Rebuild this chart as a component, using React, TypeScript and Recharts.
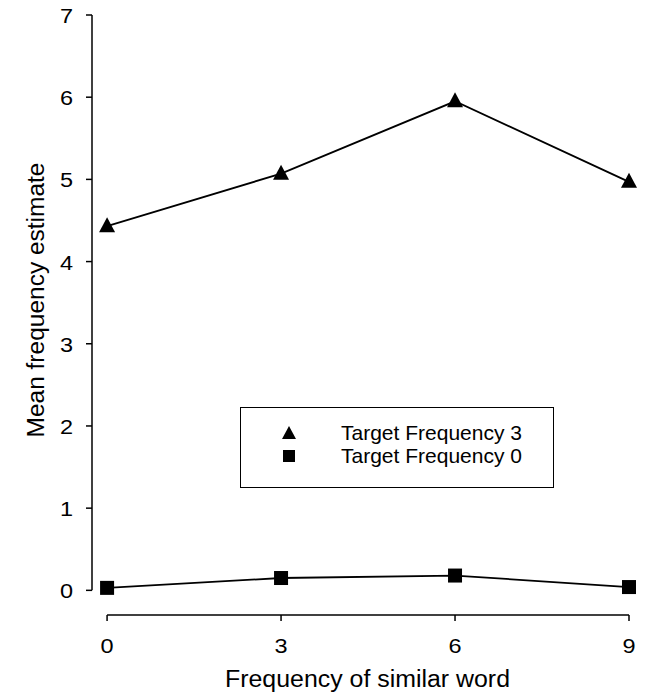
import { LineChart, Line, XAxis, YAxis, ReferenceLine, Legend } from "recharts";

const similarFreq = [0, 3, 6, 9];
const target3 = [4.43, 5.07, 5.95, 4.97];
const target0 = [0.03, 0.15, 0.18, 0.04];
const yTicks = [0, 1, 2, 3, 4, 5, 6, 7];
const xTicks = [0, 3, 6, 9];
const legendOrder = ["Target Frequency 3", "Target Frequency 0"];

const data = similarFreq.map((f, i) => ({ f, t3: target3[i], t0: target0[i] }));

const FONT = '"Liberation Sans", Arial, Helvetica, sans-serif';

const Triangle = ({ cx, cy }: any) => (
  <polygon points={`${cx},${cy - 9} ${cx - 8},${cy + 6} ${cx + 8},${cy + 6}`} fill="#000" />
);

const Square = ({ cx, cy }: any) => <rect x={cx - 7} y={cy - 7} width={14} height={14} fill="#000" />;

const YTick = ({ x, y, payload }: any) => (
  <text x={x} y={y + 1} textAnchor="end" dominantBaseline="central" fontSize={21} fontFamily={FONT} fill="#000"
    transform={`translate(${x} ${y}) scale(1.12 1) translate(${-x} ${-y})`}>
    {payload.value}
  </text>
);

const XTick = ({ x, y, payload }: any) => (
  <text x={x} y={y + 30} textAnchor="middle" fontSize={21} fontFamily={FONT} fill="#000"
    transform={`translate(${x} 0) scale(1.12 1) translate(${-x} 0)`}>
    {payload.value}
  </text>
);

const YTitle = ({ viewBox }: any) => {
  const cx = viewBox.x + 36;
  const cy = viewBox.y + viewBox.height / 2 - 15;
  return (
    <text
      x={cx}
      y={cy}
      transform={`rotate(-90 ${cx} ${cy})`}
      textAnchor="middle"
      dominantBaseline="central"
      fontSize={23}
      fontFamily={FONT}
      textLength={275}
      lengthAdjust="spacingAndGlyphs"
      fill="#000"
    >
      Mean frequency estimate
    </text>
  );
};

const XTitle = ({ viewBox }: any) => {
  const cx = viewBox.x + viewBox.width / 2 + 7;
  return (
    <text
      x={cx}
      y={687}
      textAnchor="middle"
      fontSize={23}
      fontFamily={FONT}
      textLength={285}
      lengthAdjust="spacingAndGlyphs"
      fill="#000"
    >
      Frequency of similar word
    </text>
  );
};

const LegendBox = ({ payload }: any) => {
  const items = [...(payload || [])].sort(
    (a: any, b: any) => legendOrder.indexOf(a.value) - legendOrder.indexOf(b.value)
  );
  return (
    <div
      style={{
        width: 314,
        height: 81,
        border: "1.5px solid #000",
        boxSizing: "border-box",
        position: "relative",
        fontFamily: FONT,
        fontSize: 21,
        color: "#000",
        background: "#fff",
      }}
    >
      {items.map((p: any, i: number) => (
        <div
          key={p.value}
          style={{ position: "absolute", left: 38, top: 13 + i * 23, height: 23, display: "flex", alignItems: "center" }}
        >
          <svg width={20} height={20}>
            {p.type === "triangle" ? (
              <polygon points="10,3 3,16 17,16" fill="#000" />
            ) : (
              <rect x={4} y={4} width={12} height={12} fill="#000" />
            )}
          </svg>
          <span style={{ marginLeft: 42, lineHeight: "23px" }}>{p.value}</span>
        </div>
      ))}
    </div>
  );
};

export default function App() {
  return (
    <div style={{ position: "absolute", left: 0, top: 0, background: "#fff" }}>
      <LineChart width={649} height={696} data={data} margin={{ top: 15, right: 20, bottom: 31, left: 0 }}>
        <XAxis
          dataKey="f"
          type="number"
          domain={[-0.26, 9]}
          ticks={xTicks}
          axisLine={false}
          tickSize={6}
          height={50}
          tickLine={{ stroke: "#000", strokeWidth: 1.5 }}
          tick={<XTick />}
          label={<XTitle />}
        />
        <YAxis
          type="number"
          domain={[-0.3, 7]}
          ticks={yTicks}
          axisLine={false}
          width={92}
          tickSize={6}
          tickMargin={13}
          tickLine={{ stroke: "#000", strokeWidth: 1.5 }}
          tick={<YTick />}
          label={<YTitle />}
        />
        <ReferenceLine
          segment={[{ x: 0, y: -0.3 }, { x: 9, y: -0.3 }]}
          stroke="#000"
          strokeWidth={1.5}
          ifOverflow="visible"
        />
        <ReferenceLine
          segment={[{ x: -0.26, y: 0 }, { x: -0.26, y: 7 }]}
          stroke="#000"
          strokeWidth={1.5}
          ifOverflow="visible"
        />
        <Legend
          layout="horizontal"
          verticalAlign="middle"
          align="center"
          content={<LegendBox />}
          wrapperStyle={{ position: "absolute", left: 240, top: 407, width: 314, height: 81 }}
        />
        <Line
          dataKey="t3"
          name="Target Frequency 3"
          legendType="triangle"
          stroke="#000"
          strokeWidth={1.8}
          dot={<Triangle />}
          activeDot={false}
          isAnimationActive={false}
        />
        <Line
          dataKey="t0"
          name="Target Frequency 0"
          legendType="square"
          stroke="#000"
          strokeWidth={1.8}
          dot={<Square />}
          activeDot={false}
          isAnimationActive={false}
        />
      </LineChart>
    </div>
  );
}
